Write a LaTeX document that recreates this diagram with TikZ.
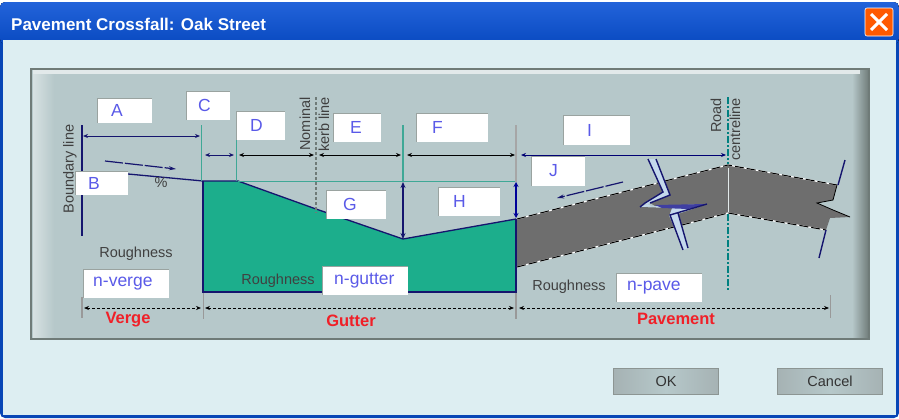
\documentclass[tikz,border=0pt]{standalone}
\usepackage{fontspec}
\setmainfont{Liberation Sans}
\usetikzlibrary{arrows.meta}
\definecolor{winblue}{HTML}{0A52D6}
\definecolor{winbody}{HTML}{DDEEF2}
\definecolor{panel}{HTML}{B6C8CA}
\definecolor{rim}{HTML}{6F7B78}
\definecolor{guttergreen}{HTML}{1CAE8C}
\definecolor{pavegrey}{HTML}{6E6E6E}
\definecolor{tealline}{HTML}{3FA896}
\definecolor{navyline}{HTML}{15156E}
\definecolor{entryblue}{HTML}{5A5AE8}
\definecolor{breakfill}{HTML}{C4D8EC}
\definecolor{zonered}{HTML}{F02028}
\tikzset{
	lbl/.style={font=\fontsize{14.5}{14.5}\selectfont, text=black!75, inner sep=0pt},
	entrytext/.style={font=\fontsize{17.5}{17.5}\selectfont, text=entryblue, inner sep=0pt, anchor=west},
	zonetext/.style={font=\bfseries\fontsize{16.5}{16.5}\selectfont, text=zonered, inner sep=0pt},
	dimline/.style={{Stealth[length=5pt,width=4pt]}-{Stealth[length=5pt,width=4pt]}, line width=0.8pt},
	zoneline/.style={dimline, densely dashed},
	slopeline/.style={-{Stealth[length=7pt,width=4pt]}, line width=1.2pt, navyline},
	roadedge/.style={black, line width=1pt, dash pattern=on 9pt off 3pt},
	breakline/.style={navyline, line width=1.4pt},
	dlgbutton/.style={draw=rim!80, line width=1.5pt, left color=panel!70!gray, right color=panel!70!gray, middle color=panel, minimum width=105pt, minimum height=26pt, inner sep=0pt, font=\fontsize{14.5}{14.5}\selectfont, text=black!80},
}
% white box with a sunken top and left edge
\def\entrybox(#1)(#2,#3)(#4,#5)(#6)#7{
	\fill[white] (#2,#3) rectangle (#4,#5);
	\draw[line width=1pt, color=rim!70] (#2,#5) -- (#2,#3) -- (#4,#3);
	\node[entrytext] (#1) at (#6,{(#3+#5)/2}) {#7};
}

\begin{document}
\begin{tikzpicture}[x=1pt,y=-1pt]
	%%%%% WINDOW %%%%%
	\useasboundingbox (0,0) rectangle (899,418);
	\fill[white] (0,0) rectangle (899,418);
	\fill[winblue!85!black, rounded corners=5pt] (0,2) rectangle (899,418);
	\fill[winbody] (3,40) rectangle (896,415);
	\fill[top color=winblue!90!white, bottom color=winblue!90!black, rounded corners=5pt] (0,2) rectangle (899,44);
	\fill[winbody] (3,40) rectangle (896,60);
	\node[font=\bfseries\fontsize{17}{17}\selectfont, text=white, anchor=west, inner sep=0pt] (title) at (11,24) {Pavement Crossfall: Oak Street};
	\fill[orange!70!red, draw=white, line width=0.6pt, rounded corners=2pt] (865,8) rectangle (893,36);
	\draw[white, line width=3pt] (871,14) -- (887,30) (887,14) -- (871,30);
	
	%%%%% PANEL %%%%%
	\fill[panel] (31,68) rectangle (869,339);
	\fill[left color=panel!55!white, right color=panel] (33,70) rectangle (54,337);
	\fill[left color=panel, right color=rim] (852,70) rectangle (869,337);
	\fill[panel!40!white] (33,70) rectangle (860,74);
	\draw[rim, line width=2pt] (31,339) -- (31,69) -- (869,69) -- (869,339) -- cycle;
	
	%%%%% PROFILE %%%%%
	\fill[guttergreen] (203,181) -- (238,181) -- (316,209) -- (403,239) -- (516,219) -- (516,292) -- (203,292) -- cycle;
	\draw[navyline, line width=1.2pt] (516,219) -- (516,292) -- (203,292) -- (203,181);
	\draw[navyline, line width=1.3pt] (128,174) -- (203,181) -- (238,181) -- (316,209) -- (403,239) -- (516,219);
	\draw[tealline, line width=1pt] (238,181) -- (516,181);
	
	%%%%% PAVEMENT %%%%%
	\fill[breakfill] (648,159) -- (656,159) -- (670,195) -- (650,203) -- (640,207) -- (707,204) -- (678,213) -- (688,248) -- (683,250) -- (670,215) -- (645,203) -- (663,192) -- cycle;
	\fill[pavegrey] (517,219) -- (658,183) -- (663,192) -- (645,203) -- (640,207) -- (672,208) -- (669,216) -- (674,227) -- (517,267) -- cycle;
	\fill[pavegrey] (665,181) -- (728,165) -- (837,185) -- (833,200) -- (817,203) -- (833,210) -- (850,217) -- (830,218) -- (826,230) -- (728,213) -- (682,225) -- (678,214) -- (690,210) -- (707,204) -- (655,206) -- (650,203) -- (670,195) -- cycle;
	\draw[white, line width=1.2pt] (517,219) -- (658,183) (665,181) -- (728,165) -- (837,185) (517,267) -- (674,227) (682,225) -- (728,213) -- (826,230);
	\draw[roadedge] (517,219) -- (658,183) (665,181) -- (728,165) -- (837,185) (517,267) -- (674,227) (682,225) -- (728,213) -- (826,230);
	\fill[entryblue!70!black] (655,205) -- (707,204) -- (688,209) -- (662,208) -- cycle;
	\draw[black, line width=0.8pt] (837,185) -- (833,200) -- (817,203) -- (833,210) -- (850,217);
	\draw[breakline] (648,159) -- (663,192) -- (645,203) -- (640,207) (656,159) -- (670,195) -- (650,203);
	\draw[breakline] (707,204) -- (670,215) -- (683,250) (678,213) -- (688,248);
	\draw[breakline] (845,160) -- (838,185);
	\draw[breakline] (826,230) -- (819,258);
	\draw[white!60!panel, line width=1pt] (728,168) -- (728,212);
	
	%%%%% GUIDE LINES %%%%%
	\draw[navyline, line width=1.3pt] (82,125) -- (82,236);
	\draw[tealline, line width=1.2pt] (201.5,125) -- (201.5,181);
	\draw[tealline, line width=1pt] (236,140) -- (236,181);
	\draw[tealline, line width=1.2pt] (403,125) -- (403,181);
	\draw[black!35, line width=2pt] (516,125) -- (516,182);
	\draw[rim, line width=1.2pt, densely dashed] (316,97) -- (316,213);
	\draw[teal, line width=1.5pt, dash pattern=on 7pt off 2pt on 2pt off 2pt] (728,97) -- (728,164);
	\draw[teal, line width=1.5pt, dash pattern=on 7pt off 2pt on 2pt off 2pt] (728,214) -- (728,291);
	
	%%%%% DIMENSIONS %%%%%
	\draw[dimline, navyline] (83,136) -- (200,136);
	\draw[dimline, navyline] (205,155) -- (234,155);
	\draw[dimline] (239,155) -- (314,155);
	\draw[dimline] (319,155) -- (401,155);
	\draw[dimline] (407,155) -- (515,155);
	\draw[dimline, blue!45!black] (521,155) -- (726,155);
	\draw[{Stealth[length=6pt,width=5pt]}-{Stealth[length=6pt,width=5pt]}, navyline, line width=1.5pt] (403,182) -- (403,239);
	\draw[{Stealth[length=5pt,width=5pt]}-{Stealth[length=5pt,width=5pt]}, blue!60!black, line width=1.3pt] (516,182) -- (516,218);
	\draw[slopeline, dash pattern=on 18pt off 2pt] (105,161) -- (176,169);
	\draw[slopeline, dash pattern=on 18pt off 2pt] (623,182) -- (557,198);
	
	%%%%% ZONES %%%%%
	\draw[black!40, line width=1.5pt] (82,297) -- (82,318);
	\draw[black!40, line width=0.8pt] (203,293) -- (203,319);
	\draw[black!40, line width=1.5pt] (516,293) -- (516,319);
	\draw[black!40, line width=0.8pt] (830,295) -- (830,318);
	\draw[zoneline] (84,308) -- (201,308);
	\draw[zoneline] (205,308) -- (514,308);
	\draw[zoneline] (519,308) -- (829,308);
	\node[zonetext] (verge) at (128,320) {Verge};
	\node[zonetext] (gutter) at (351,321) {Gutter};
	\node[zonetext] (pavement) at (676,319) {Pavement};
	
	%%%%% ENTRY BOXES %%%%%
	\entrybox(boxA)(97,98)(152,123)(111){A}
	\entrybox(boxB)(75,171)(128,195)(88){B}
	\entrybox(boxC)(186,91)(230,120)(198){C}
	\entrybox(boxD)(236,111)(285,140)(250){D}
	\entrybox(boxE)(333,113)(381,142)(350){E}
	\entrybox(boxF)(416,113)(488,142)(432){F}
	\entrybox(boxG)(326,190)(386,219)(343){G}
	\entrybox(boxH)(438,187)(500,216)(453){H}
	\entrybox(boxI)(563,115)(630,145)(587){I}
	\entrybox(boxJ)(531,156)(585,186)(549){J}
	\entrybox(nverge)(83,269)(169,298)(93){n-verge}
	\entrybox(ngutter)(322,266)(408,295)(334){n-gutter}
	\entrybox(npave)(616,273)(702,302)(627){n-pave}
	
	%%%%% LABELS %%%%%
	\node[lbl, rotate=90] (boundary) at (70,169) {Boundary line};
	\node[lbl] (percent) at (161,183) {\%};
	\node[lbl, rotate=90] (nominal) at (305,124) {Nominal};
	\node[lbl, rotate=90] (kerb) at (324,124.5) {kerb line};
	\node[lbl, rotate=90] (road) at (716,115.5) {Road};
	\node[lbl, rotate=90] (centreline) at (735,129.5) {centreline};
	\node[lbl] (roughverge) at (136,254) {Roughness};
	\node[lbl] (roughgutter) at (278,281) {Roughness};
	\node[lbl] (roughpave) at (569,287) {Roughness};
	
	%%%%% BUTTONS %%%%%
	\node[dlgbutton] (ok) at (666,381.5) {OK};
	\node[dlgbutton] (cancel) at (830,381.5) {Cancel};
\end{tikzpicture}
\end{document}
